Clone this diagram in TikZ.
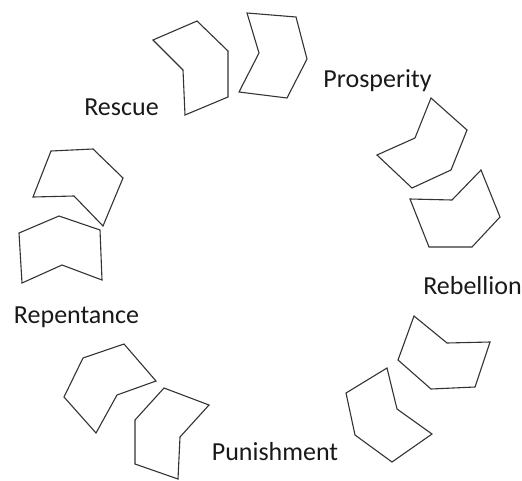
\documentclass[tikz,border=0pt]{standalone}
\usepackage{fontspec}
\setmainfont{Carlito}
\tikzset{
  chev/.style={draw=black!80, line width=1.1pt, line join=miter},
  stage/.style={font=\fontsize{26}{30}\selectfont, text=black!90, inner sep=0pt, anchor=base}
}
\begin{document}
\begin{tikzpicture}[x=1pt,y=-1pt]
\useasboundingbox (0,0) rectangle (522,480);
% labels
\node[stage] (rescue) at (121.5,115) {Rescue};
\node[stage] (prosperity) at (377.5,87) {Prosperity};
\node[stage] (rebellion) at (472.5,294) {Rebellion};
\node[stage] (punishment) at (275,460) {Punishment};
\node[stage] (repentance) at (76.5,323) {Repentance};
% rescue -> prosperity
\draw[chev] (153,40) -- (197,21) -- (228,51) -- (228,97) -- (185,115) -- (183,70) -- cycle;
\draw[chev] (247,13) -- (296,17) -- (307,59) -- (287,98) -- (239,92) -- (259,53) -- cycle;
% prosperity -> rebellion
\draw[chev] (431,98) -- (467,130) -- (451,170) -- (412,188) -- (377,155) -- (415,138) -- cycle;
\draw[chev] (410,199) -- (452,200) -- (481,170) -- (500,217) -- (472,247) -- (429,247) -- cycle;
% rebellion -> punishment
\draw[chev] (414,316) -- (447,343) -- (490,342) -- (475,387) -- (431,389) -- (398,360) -- cycle;
\draw[chev] (387,368) -- (397,409) -- (432,434) -- (392,462) -- (355,435) -- (346,393) -- cycle;
% punishment -> repentance
\draw[chev] (164,388) -- (209,405) -- (180,437) -- (178,479) -- (135,464) -- (135,420) -- cycle;
\draw[chev] (83,358) -- (124,344) -- (156,381) -- (117,395) -- (96,433) -- (64,397) -- cycle;
% repentance -> rescue
\draw[chev] (19,233) -- (59,216) -- (100,230) -- (102,280) -- (62,265) -- (22,283) -- cycle;
\draw[chev] (51,151) -- (93,149) -- (123,178) -- (103,226) -- (74,196) -- (33,197) -- cycle;
\end{tikzpicture}
\end{document}
